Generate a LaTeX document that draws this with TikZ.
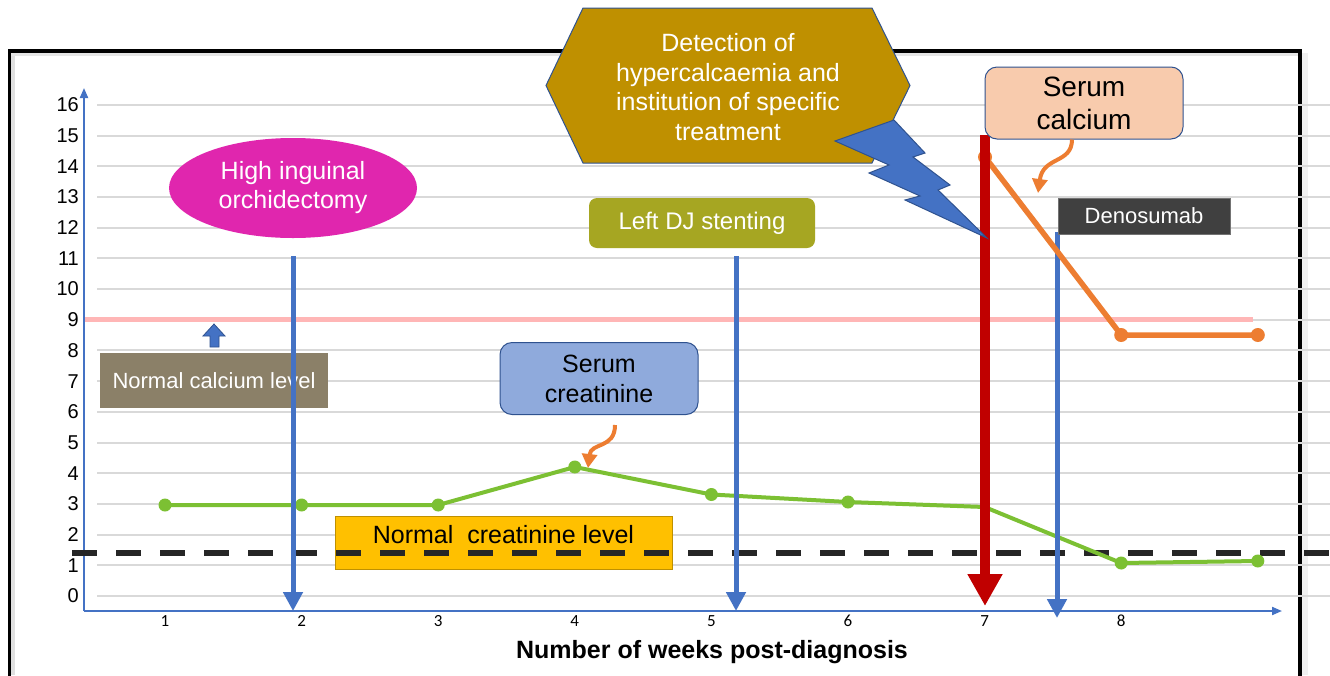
\documentclass[tikz,border=0pt]{standalone}
\usepackage{fontspec}
\setmainfont{Liberation Sans}
\newfontfamily\calib{Carlito}
\usetikzlibrary{arrows.meta,shapes.geometric}
\definecolor{axisblue}{HTML}{4472C4}
\definecolor{edgeblue}{HTML}{2F528F}
\definecolor{magentac}{HTML}{E026AE}
\definecolor{olivec}{HTML}{A6A622}
\definecolor{goldc}{HTML}{BF9000}
\definecolor{peachc}{HTML}{F8CBAD}
\definecolor{darkc}{HTML}{404040}
\definecolor{taupec}{HTML}{8B8068}
\definecolor{lbluec}{HTML}{8FAADC}
\definecolor{yellowc}{HTML}{FFC000}
\definecolor{greenc}{HTML}{7CC033}
\definecolor{orangec}{HTML}{ED7D31}
\definecolor{redc}{HTML}{C00000}
\definecolor{pinkc}{HTML}{FFB6B6}
\definecolor{gridc}{HTML}{D9D9D9}
\definecolor{dashc}{HTML}{262626}
\begin{document}
\begin{tikzpicture}[x=1pt,y=-1pt,
  gridline/.style={draw=gridc,line width=2pt},
  ylab/.style={font=\fontsize{20}{24}\selectfont,anchor=east,inner sep=0pt},
  xlab/.style={font=\calib\fontsize{17}{20}\selectfont,inner sep=0pt},
  axisline/.style={draw=axisblue,line width=2pt},
  barrow/.style={draw=axisblue,line width=5pt,-{Triangle[width=19pt,length=19pt]}},
  rarrow/.style={draw=redc,line width=10.5pt,-{Triangle[width=33pt,length=32pt]}},
  carrow/.style={draw=orangec,line width=4pt,-{Triangle[width=15pt,length=14pt]}},
  boxnode/.style={inner sep=0pt,align=center},
  gdot/.style={fill=greenc},
  odot/.style={fill=orangec}
]
\useasboundingbox (0,0) rectangle (1330,675);
\fill[white] (0,0) rectangle (1330,675);
% frame with shadow
\fill[black!6] (1302,53) rectangle (1308,675);
\fill[black!12] (11,53) rectangle (15,675);
\fill[black!10] (11,53) rectangle (1298,56);
\draw[line width=3.5pt] (9.5,700) -- (9.5,51) -- (1300,51) -- (1300,700);
% grid
\foreach \v in {0,...,16} {
  \draw[gridline] (97,{596-30.69*\v}) -- (1330,{596-30.69*\v});
  \node[ylab] (yl\v) at (79,{596-30.69*\v}) {\v};
}
\foreach \w in {1,...,8} {
  \node[xlab] (xl\w) at ({28.4+136.6*\w},621) {\w};
}
% axes
\coordinate (origin) at (84,611);
\coordinate (ytop) at (84,88);
\coordinate (xend) at (1282,611);
\draw[axisline,-{Triangle[width=8pt,length=10pt]}] (origin) -- (ytop);
\draw[axisline,-{Triangle[width=8pt,length=10pt]}] (origin) -- (xend);
% normal calcium line
\coordinate (pinkA) at (85,319);
\coordinate (pinkB) at (1253,319);
\draw[pinkc,line width=5pt] (pinkA) -- (pinkB);
% boxes under lines
\node[boxnode,fill=yellowc,draw=goldc,line width=1pt,minimum width=337pt,minimum height=53pt,text depth=17pt,
  font=\fontsize{25}{30}\selectfont] (ncl) at (503.5,542.5) {Normal\ \ creatinine level};
\node[boxnode,fill=taupec,text=white,minimum width=228pt,minimum height=55pt,
  font=\fontsize{22}{26}\selectfont] (ncal) at (214,380.5) {Normal calcium level};
% dashed creatinine line
\coordinate (dashA) at (72,553);
\coordinate (dashB) at (1330,553);
\draw[dashc,line width=6pt,dash pattern=on 25pt off 19pt] (dashA) -- (dashB);
% creatinine series
\coordinate (g1) at (165,505);
\coordinate (g2) at (301.6,505);
\coordinate (g3) at (438.2,505);
\coordinate (g4) at (574.8,467);
\coordinate (g5) at (711.4,494.5);
\coordinate (g6) at (848,502);
\coordinate (g7) at (984.6,507);
\coordinate (g8) at (1121.2,563);
\coordinate (g9) at (1257.8,561);
\draw[greenc,line width=4pt,line join=round] (g1) -- (g2) -- (g3) -- (g4) -- (g5) -- (g6) -- (g7) -- (g8) -- (g9);
\foreach \p in {g1,g2,g3,g4,g5,g6,g8,g9} \fill[gdot] (\p) circle (6.5pt);
% small up block arrow
\filldraw[fill=axisblue,draw=edgeblue,line width=0.8pt] (214,324) -- (225,336) -- (219,336) -- (219,347) -- (210,347) -- (210,336) -- (203,336) -- cycle;
% blue event arrows
\coordinate (b1top) at (293,256);
\coordinate (b1tip) at (293,611);
\coordinate (b2top) at (736,256);
\coordinate (b2tip) at (736,611);
\coordinate (b3top) at (1057,232);
\coordinate (b3tip) at (1057,618);
\draw[barrow] (b1top) -- (b1tip);
\draw[barrow] (b2top) -- (b2tip);
\draw[barrow] (b3top) -- (b3tip);
% calcium series
\coordinate (c7) at (985,157);
\coordinate (c8) at (1121.2,335);
\coordinate (c9) at (1257.8,335);
\draw[orangec,line width=5.5pt,line join=round] (c7) -- (c8) -- (c9);
\foreach \p in {c7,c8,c9} \fill[odot] (\p) circle (7pt);
% red arrow
\coordinate (rtop) at (985,135);
\coordinate (rtip) at (985,606);
\draw[rarrow] (rtop) -- (rtip);
% labels
\node[ellipse,fill=magentac,text=white,minimum width=248pt,minimum height=100pt,boxnode,
  font=\fontsize{25}{29}\selectfont] (orch) at (293,188) {High inguinal\\orchidectomy};
\node[boxnode,fill=olivec,text=white,rounded corners=8pt,minimum width=226pt,minimum height=50pt,
  font=\fontsize{24}{28}\selectfont] (dj) at (702,223) {Left DJ stenting};
\node[boxnode,fill=lbluec,draw=edgeblue,line width=1pt,rounded corners=12pt,minimum width=198pt,minimum height=72pt,
  font=\fontsize{25}{30}\selectfont] (screat) at (599,378.5) {Serum\\creatinine};
\node[boxnode,fill=peachc,draw=edgeblue,line width=1pt,rounded corners=12pt,minimum width=198pt,minimum height=72pt,
  font=\fontsize{28}{33}\selectfont] (scalc) at (1084,103) {Serum\\calcium};
\node[boxnode,fill=darkc,draw=black!55,line width=0.8pt,text=white,minimum width=172pt,minimum height=36pt,
  font=\fontsize{22}{26}\selectfont] (deno) at (1144,216) {Denosumab};
% hexagon
\filldraw[fill=goldc,draw=edgeblue,line width=1pt] (546,85.5) -- (583,8) -- (872,8) -- (910,85.5) -- (872,163) -- (583,163) -- cycle;
\node[boxnode,text=white,font=\fontsize{25}{29.5}\selectfont] (det) at (728,87)
  {Detection of\\hypercalcaemia and\\institution of specific\\treatment};
% lightning bolt
\filldraw[fill=axisblue,draw=edgeblue,line width=1pt,line join=miter]
  (894,120) -- (925,153) -- (913,157) -- (950,185) -- (938,190) -- (987,238) -- (905,200) -- (920,196)
  -- (869,173) -- (889,165) -- (835,141) -- cycle;
% callout arrows
\coordinate (ca1) at (1038,193);
\coordinate (ca2) at (588,468);
\draw[carrow] (scalc.south -| 1072,0) .. controls (1072,164) and (1043,156) .. (ca1);
\draw[carrow] (screat.south -| 615,0) ++(0,10) .. controls (615,449) and (591,442) .. (ca2);
% x axis title
\node[font=\bfseries\fontsize{25}{30}\selectfont,inner sep=0pt] (xtitle) at (712,652) {Number of weeks post-diagnosis};
\end{tikzpicture}
\end{document}
